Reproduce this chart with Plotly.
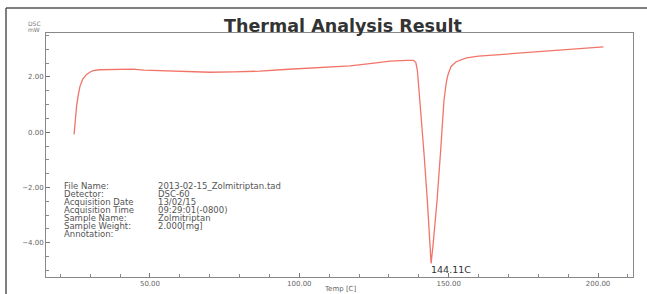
import plotly.graph_objects as go

# ---- data ----
temp_c = [24.6, 25.0, 25.45, 26.0, 26.6, 27.5, 28.8, 30.0, 31.0, 33.0, 35.5, 40.0, 44.3, 48.0,
          53.3, 60.0, 70.1, 78.0, 86.8, 95.0, 105.0, 117.0, 125.0, 130.4, 136.0, 138.2,
          139.0, 139.5, 140.0, 140.7, 141.8, 142.9, 143.7, 144.11, 144.8, 146.1, 147.3,
          148.4, 149.2, 149.8, 150.8, 152.5, 156.0, 160.0, 167.2, 175.0, 183.9, 192.0, 201.8]
dsc_mw = [-0.08, 0.45, 0.95, 1.35, 1.67, 1.92, 2.09, 2.18, 2.23, 2.26, 2.27, 2.27, 2.28, 2.25,
          2.23, 2.20, 2.17, 2.18, 2.21, 2.27, 2.33, 2.40, 2.50, 2.57, 2.60, 2.60,
          2.52, 2.25, 1.60, 0.70, -0.85, -2.55, -4.05, -4.75, -4.05, -2.48, -0.68,
          1.13, 1.80, 2.09, 2.38, 2.55, 2.69, 2.75, 2.81, 2.87, 2.93, 3.00, 3.09]

peak_temp = 144.11
peak_label = "144.11C"

info_labels = ["File Name:", "Detector:", "Acquisition Date", "Acquisition Time",
               "Sample Name:", "Sample Weight:", "Annotation:"]
info_values = ["2013-02-15_Zolmitriptan.tad", "DSC-60", "13/02/15", "09:29:01(-0800)",
               "Zolmitriptan", "2.000[mg]", ""]

title_text = "Thermal Analysis Result"
x_title = "Temp [C]"
y_title_lines = ["DSC", "mW"]

# ---- layout geometry ----
W, H = 647, 294
ML, MR, MT, MB = 46, 14, 33, 17
PW, PH = W - ML - MR, H - MT - MB


def px_x(p):
    return (p - ML) / PW


def px_y(p):
    return (H - MB - p) / PH


FONT = "DejaVu Sans"

fig = go.Figure()
fig.add_trace(go.Scatter(x=temp_c, y=dsc_mw, mode="lines",
                         line=dict(color="#f27468", width=1.3), hoverinfo="skip",
                         showlegend=False))

annotations = []
peak_val = dsc_mw[temp_c.index(peak_temp)]
annotations.append(dict(x=peak_temp, y=peak_val, xref="x", yref="y", text=peak_label,
                        showarrow=False, xanchor="left", yanchor="top", xshift=-2, yshift=1,
                        font=dict(family=FONT, size=9.5, color="#333")))

for i, (lab, val) in enumerate(zip(info_labels, info_values)):
    yc = px_y(186 + 8 * i)
    annotations.append(dict(x=px_x(62), y=yc, xref="paper", yref="paper", text=lab,
                            showarrow=False, xanchor="left", yanchor="middle",
                            font=dict(family=FONT, size=8.5, color="#555")))
    if val:
        annotations.append(dict(x=px_x(156), y=yc, xref="paper", yref="paper", text=val,
                                showarrow=False, xanchor="left", yanchor="middle",
                                font=dict(family=FONT, size=8.5, color="#555")))

annotations.append(dict(x=0.5, y=px_y(288.5), xref="paper", yref="paper", text=x_title,
                        showarrow=False, xanchor="center", yanchor="middle",
                        font=dict(family=FONT, size=7, color="#666")))
for i, t in enumerate(y_title_lines):
    annotations.append(dict(x=px_x(26), y=px_y(23.5 + 6 * i), xref="paper", yref="paper",
                            text=t, showarrow=False, xanchor="left", yanchor="middle",
                            font=dict(family=FONT, size=6, color="#777")))

shapes = [
    dict(type="line", xref="paper", yref="paper", x0=px_x(6), x1=px_x(W + 2),
         y0=px_y(8), y1=px_y(8), line=dict(color="#555", width=1.5)),
    dict(type="line", xref="paper", yref="paper", x0=px_x(6), x1=px_x(6),
         y0=px_y(8), y1=px_y(H + 2), line=dict(color="#555", width=1.5)),
]

fig.update_layout(
    width=W, height=H,
    margin=dict(l=ML, r=MR, t=MT, b=MB, autoexpand=False),
    paper_bgcolor="white", plot_bgcolor="white",
    title=dict(text="<b>" + title_text + "</b>", x=343 / W, y=1 - 26 / H,
               xref="container", yref="container",
               xanchor="center", yanchor="middle",
               font=dict(family=FONT, size=17.5, color="#333")),
    xaxis=dict(range=[15.2, 211.7], tick0=0, dtick=50, tickformat=".2f", automargin=False,
               showgrid=False, zeroline=False, showline=True, mirror=True,
               linecolor="#888", linewidth=1, ticks="inside", ticklen=4, tickcolor="#777",
               tickfont=dict(family=FONT, size=7, color="#666"),
               minor=dict(dtick=10, ticks="inside", ticklen=3, tickcolor="#888", showgrid=False)),
    yaxis=dict(range=[-5.24, 3.59], tick0=0, dtick=2, tickformat=".2f", automargin=False,
               showgrid=False, zeroline=False, showline=True, mirror=True,
               linecolor="#888", linewidth=1, ticks="inside", ticklen=4, tickcolor="#777",
               tickfont=dict(family=FONT, size=7, color="#666"),
               minor=dict(dtick=0.5, ticks="inside", ticklen=3, tickcolor="#888", showgrid=False)),
    annotations=annotations,
    shapes=shapes,
)

fig.write_html("out.html", config={"displayModeBar": False},
               post_script="document.body.style.margin='0';document.body.style.overflow='hidden';")
